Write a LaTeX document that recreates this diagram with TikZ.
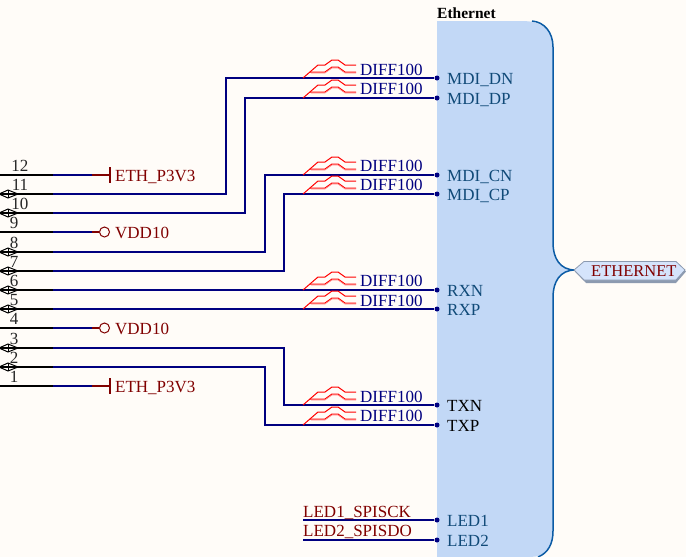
\documentclass[tikz,border=0pt]{standalone}
\usepackage{fontspec}
\setmainfont{Liberation Serif}
\definecolor{paper}{HTML}{FFFCF8}
\definecolor{wirec}{HTML}{000080}
\definecolor{redc}{HTML}{800000}
\definecolor{bodyc}{HTML}{C2D8F6}
\definecolor{edgec}{HTML}{0B5BA5}
\definecolor{pinc}{HTML}{104A78}
\definecolor{portc}{HTML}{D5E4FB}
\definecolor{porte}{HTML}{8C9AB0}
\tikzset{
 x=1pt,y=-1pt,
 wire/.style={draw=wirec,line width=1.5pt},
 stub/.style={draw=black,line width=1.5pt},
 powerw/.style={draw=redc,line width=1.5pt},
 pinnum/.style={font=\fontsize{17}{17}\selectfont,text=black!85,anchor=base,inner sep=0},
 netlab/.style={font=\fontsize{17}{17}\selectfont,text=redc,anchor=base west,inner sep=0},
 difflab/.style={font=\fontsize{17}{17}\selectfont,text=wirec,anchor=base west,inner sep=0},
 pinlab/.style={font=\fontsize{17}{17}\selectfont,text=pinc,anchor=base west,inner sep=0},
 dotc/.style={circle,fill=wirec,inner sep=0,minimum size=5pt},
}
\newcommand{\diffmark}[2]{%
 \begin{scope}[shift={(#1,#2)},draw=red,line width=1pt]
  \draw (0,0) -- (15,-13) -- (22,-13) -- (29,-18) -- (35,-18) -- (42,-13) -- (53,-13);
  \draw (7,-6) -- (22,-6) -- (29,-11) -- (35,-11) -- (42,-6) -- (53,-6);
  \draw[red!50,line width=.6pt] (8,-5) -- (22,-5) -- (29,-10) -- (35,-10) -- (42,-5) -- (53,-5);
 \end{scope}}
\newcommand{\bidir}[1]{%
 \draw[black,line width=1pt] (-1,#1) -- (8,#1-4) -- (18,#1) -- (8,#1+4) -- cycle;
 \draw[black,line width=1pt] (8,#1-4) -- (8,#1+4);}
\begin{document}
\begin{tikzpicture}
\useasboundingbox (0,0) rectangle (686,557);
\fill[paper] (0,0) rectangle (686,557);
% body
\fill[bodyc] (437,21) -- (522,21) .. controls (542,21) and (553,30) .. (553,47) -- (553,243)
  .. controls (553,258) and (560,270) .. (575,270)
  .. controls (560,270) and (553,282) .. (553,297) -- (553,531)
  .. controls (553,548) and (545,557) .. (530,557) -- (437,557) -- cycle;
\draw[edgec,line width=1.5pt] (532,21) .. controls (544,22) and (553,32) .. (553,47) -- (553,243)
  .. controls (553,258) and (560,270) .. (575,270)
  .. controls (560,270) and (553,282) .. (553,297) -- (553,531)
  .. controls (553,544) and (548,553) .. (538,557);
\node[font=\bfseries\fontsize{15.5}{15.5}\selectfont,text=black,anchor=base west,inner sep=0] (title) at (437,18) {Ethernet};
% port
\fill[porte] (575,271.5) -- (586,263.5) -- (676,263.5) -- (686,271.5) -- (676,283) -- (586,283) -- cycle;
\draw[porte,fill=portc,line width=.8pt] (574,270) -- (584,261.5) -- (676,261.5) -- (685,270) -- (676,280) -- (584,280) -- cycle;
\node[netlab,font=\fontsize{16.5}{16.5}\selectfont] (port) at (591,276) {ETHERNET};
% pin endpoints
\foreach \n/\y in {dn/78,dp/98,cn/175,cp/194,rxn/290,rxp/309,txn/405,txp/425,lo/520,lt/540}
  \node[dotc] (\n) at (437,\y) {};
\foreach \n/\y in {p12/175,p11/194,p10/213,p9/232,p8/252,p7/271,p6/290,p5/309,p4/328,p3/348,p2/367,p1/386}{
  \coordinate (\n) at (53,\y);
  \coordinate (\n e) at (0,\y);
}
% bidir symbols
\foreach \y in {194,213,252,271,290,309,348,367} {\bidir{\y}}
% wires
\draw[wire] (p11) -| (226,78) -- (dn);
\draw[wire] (p10) -| (245,98) -- (dp);
\draw[wire] (p8) -| (265,175) -- (cn);
\draw[wire] (p7) -| (284,194) -- (cp);
\draw[wire] (p6) -- (rxn);
\draw[wire] (p5) -- (rxp);
\draw[wire] (p3) -| (284,405) -- (txn);
\draw[wire] (p2) -| (265,425) -- (txp);
% pin stubs
\foreach \n in {p12,p11,p10,p9,p8,p7,p6,p5,p4,p3,p2,p1} {\draw[stub] (\n e) -- (\n);}
% pin numbers
\foreach \t/\x/\y in {12/20/171,11/20/190,10/20/209,9/14/228,8/14/248,7/14/267,6/14/286,5/14/305,4/14/324,3/14/344,2/14/363,1/14/382}
  \node[pinnum] (num\t) at (\x,\y) {\t};
% power ports
\coordinate (vone) at (92,175);
\coordinate (vtwo) at (92,386);
\coordinate (vthree) at (92,232);
\coordinate (vfour) at (92,328);
\draw[wire] (p12) -- (vone);
\draw[wire] (p1) -- (vtwo);
\draw[wire] (p9) -- (vthree);
\draw[wire] (p4) -- (vfour);
\foreach \c/\y in {vone/175,vtwo/386}{
  \draw[powerw] (\c) -- (110,\y);
  \draw[powerw] (110,\y-8) -- (110,\y+8);
}
\foreach \c/\y in {vthree/232,vfour/328}{
  \draw[powerw] (\c) -- (99,\y);
  \draw[redc,line width=1pt,fill=paper] (104.5,\y) circle (5pt);
}
\node[netlab] (eone) at (115,181) {ETH\_P3V3};
\node[netlab] (etwo) at (115,392) {ETH\_P3V3};
\node[netlab] (vdone) at (115,238) {VDD10};
\node[netlab] (vdtwo) at (115,334) {VDD10};
% diff pairs
\foreach \x/\y in {303/78,303/98,303/175,303/194,303/290,303/309,303/405,303/425} {\diffmark{\x}{\y}}
\foreach \n/\y in {a/75,b/94,c/171,d/190,e/286,f/306,g/402,h/421}
  \node[difflab] (dl\n) at (360,\y) {DIFF100};
% pin names
\node[pinlab] (nmdn) at (447,84) {MDI\_DN};
\node[pinlab] (nmdp) at (447,104) {MDI\_DP};
\node[pinlab] (nmcn) at (447,181) {MDI\_CN};
\node[pinlab] (nmcp) at (447,200) {MDI\_CP};
\node[pinlab] (nrxn) at (447,296) {RXN};
\node[pinlab] (nrxp) at (447,315) {RXP};
\node[pinlab,text=black] (ntxn) at (447,411) {TXN};
\node[pinlab,text=black] (ntxp) at (447,431) {TXP};
\node[pinlab] (nlo) at (447,526) {LED1};
\node[pinlab] (nlt) at (447,546) {LED2};
% LED nets
\coordinate (ledo) at (303,520);
\coordinate (ledt) at (303,540);
\draw[wire] (ledo) -- (lo);
\draw[wire] (ledt) -- (lt);
\node[netlab] (lnone) at (303,517) {LED1\_SPISCK};
\node[netlab] (lntwo) at (303,536) {LED2\_SPISDO};
\end{tikzpicture}
\end{document}
